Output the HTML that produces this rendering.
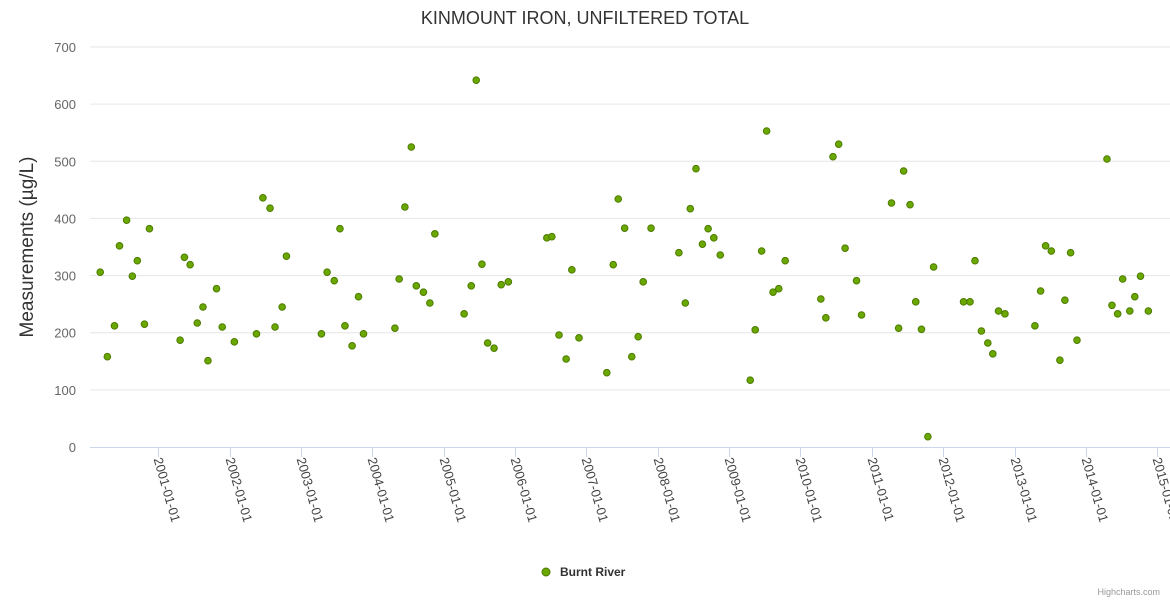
<!DOCTYPE html>
<html><head><meta charset="utf-8"><style>
body{margin:0;background:#fff;}
svg{display:block;font-family:"Liberation Sans","DejaVu Sans",sans-serif;}
</style></head><body>
<svg id="chart" width="1170" height="600" viewBox="0 0 1170 600">
<text x="585" y="24" text-anchor="middle" font-size="18" fill="#333">KINMOUNT IRON, UNFILTERED TOTAL</text>
<text transform="translate(33,247) rotate(-90)" text-anchor="middle" font-size="19" fill="#333">Measurements (µg/L)</text>
<g id="grid"></g><g id="xaxis"></g><g id="pts"></g>
<g>
<circle cx="546" cy="572" r="4" fill="#6aa800" stroke="#4b7a00" stroke-width="1"/>
<text x="560" y="576" font-size="12" font-weight="bold" fill="#333">Burnt River</text>
</g>
<text x="1160" y="595" text-anchor="end" font-size="9" fill="#999">Highcharts.com</text>
</svg>
<script>
const yTicks=[0,100,200,300,400,500,600,700];
const xYears=[2001,2002,2003,2004,2005,2006,2007,2008,2009,2010,2011,2012,2013,2014,2015];
const dates=[2000.20,2000.30,2000.40,2000.47,2000.57,2000.65,2000.72,2000.82,2000.89,2001.32,2001.38,2001.46,2001.56,2001.64,2001.71,2001.83,2001.91,2002.08,2002.39,2002.48,2002.58,2002.65,2002.75,2002.81,2003.30,2003.38,2003.48,2003.56,2003.63,2003.73,2003.82,2003.89,2004.33,2004.39,2004.47,2004.56,2004.63,2004.73,2004.82,2004.89,2005.30,2005.40,2005.47,2005.55,2005.63,2005.72,2005.82,2005.92,2006.46,2006.53,2006.63,2006.73,2006.81,2006.91,2007.30,2007.39,2007.46,2007.55,2007.65,2007.74,2007.81,2007.92,2008.31,2008.40,2008.47,2008.55,2008.64,2008.72,2008.80,2008.89,2009.31,2009.38,2009.47,2009.54,2009.63,2009.71,2009.80,2010.30,2010.37,2010.47,2010.55,2010.64,2010.80,2010.87,2011.29,2011.39,2011.46,2011.55,2011.63,2011.71,2011.80,2011.88,2012.30,2012.39,2012.46,2012.55,2012.64,2012.71,2012.79,2012.88,2013.30,2013.38,2013.45,2013.53,2013.65,2013.72,2013.80,2013.89,2014.31,2014.38,2014.46,2014.53,2014.63,2014.70,2014.78,2014.89];
const values=[306,158,212,352,397,299,326,215,382,187,332,319,217,245,151,277,210,184,198,436,418,210,245,334,198,306,291,382,212,177,263,198,208,294,420,525,282,271,252,373,233,282,642,320,182,173,284,289,366,368,196,154,310,191,130,319,434,383,158,193,289,383,340,252,417,487,355,382,366,336,117,205,343,553,271,277,326,259,226,508,530,348,291,231,427,208,483,424,254,206,18,315,254,254,326,203,182,163,238,233,212,273,352,343,152,257,340,187,504,248,233,294,238,263,299,238];
const NS='http://www.w3.org/2000/svg';
const X0=90,X1=1170,Y0=447,Y1=47;
function xs(d){return 158.3+(d-2001)*71.35;}
function ys(v){return Y0-(v/700)*(Y0-Y1);}
function mk(tag,attrs,parent){const e=document.createElementNS(NS,tag);for(const k in attrs)e.setAttribute(k,attrs[k]);parent.appendChild(e);return e;}
const grid=document.getElementById('grid');
yTicks.forEach(t=>{
  if(t>0){const l=mk('line',{x1:X0,x2:X1,y1:ys(t),y2:ys(t),stroke:'#e6e6e6','stroke-width':1},grid);
  
  }
  const tx=mk('text',{x:76,y:ys(t)+5,'text-anchor':'end','font-size':13,fill:'#666'},grid);
  tx.textContent=t;
  
  
});
const xa=document.getElementById('xaxis');
const al=mk('line',{x1:X0,x2:X1,y1:Y0+0.5,y2:Y0+0.5,stroke:'#ccd6eb','stroke-width':1},xa);


xYears.forEach(y=>{
  const x=Math.round(xs(y))+0.5;
  const tk=mk('line',{x1:x,x2:x,y1:Y0,y2:Y0+10,stroke:'#ccd6eb','stroke-width':1},xa);
  
  
  const tx=mk('text',{transform:`translate(${x-5},${Y0+12}) rotate(74)`,'font-size':13,fill:'#444'},xa);
  tx.textContent=y+'-01-01';
  
  
});
const pts=document.getElementById('pts');
dates.forEach((d,i)=>{
  const c=mk('circle',{cx:xs(d)-1,cy:ys(values[i]),r:3.3,fill:'#6aa800',stroke:'#4b7a00','stroke-width':1},pts);
  
  
});
</script>
</body></html>
